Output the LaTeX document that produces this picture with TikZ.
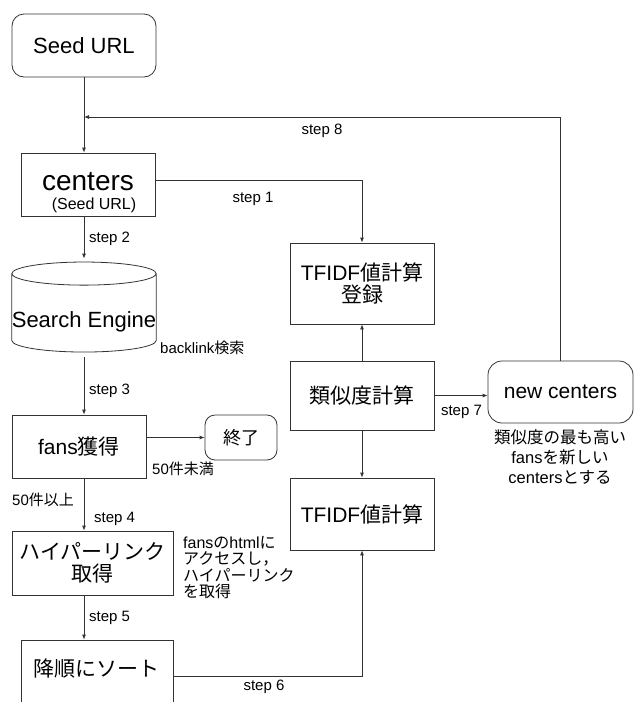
\documentclass[tikz,border=0pt]{standalone}
\usepackage{fontspec}
\setmainfont{Liberation Sans}
\newfontfamily\jp{Noto Sans CJK JP}
\usetikzlibrary{shapes.geometric,arrows.meta}

\tikzset{
  box/.style={draw=black!80, line width=0.8pt, inner sep=0pt, align=center,
    font=\fontsize{21}{24}\selectfont},
  rbox/.style={box, rounded corners=12pt},
  cyl/.style={box, cylinder, shape border rotate=90, aspect=0.16},
  flow/.style={draw=black!80, line width=0.8pt, -{Latex[length=5pt,width=4pt]}},
  steplbl/.style={font=\fontsize{15}{17}\selectfont, inner sep=0pt},
  note/.style={font=\fontsize{16}{16.5}\selectfont, inner sep=0pt},
}

\begin{document}
\begin{tikzpicture}[x=1pt, y=-1pt]
  \useasboundingbox (0,0) rectangle (633,702);

  % left column
  \node[rbox, minimum width=144pt, minimum height=63pt, font=\fontsize{22}{24}\selectfont] (seed) at (84,45.5) {Seed URL};
  \node[box, minimum width=134pt, minimum height=63pt, font=\fontsize{28}{19}\selectfont] (centers) at (88,184.5)
    {\rule{0pt}{34pt}centers\\ \hspace*{12pt}{\fontsize{16}{19}\selectfont (Seed URL)}};
  \node[cyl, minimum width=144pt, minimum height=90pt, text height=34pt, text depth=5pt,
    font=\fontsize{22}{24}\selectfont] (se) at (84,313) {Search Engine};
  \node[box, minimum width=134pt, minimum height=63pt] (fans) at (79,446.5) {fans{\jp 獲得}};
  \node[rbox, rounded corners=10pt, minimum width=72pt, minimum height=45pt, font=\fontsize{18}{20}\selectfont] (end) at (241,437.5) {\jp 終了};
  \node[box, minimum width=161pt, minimum height=64pt, font=\fontsize{21}{22}\selectfont] (hyp) at (92.5,563) {{\jp ハイパーリンク}\\{\jp 取得}};
  \node[box, minimum width=152pt, minimum height=72pt, text depth=14pt, text height=14pt] (sort) at (97,676) {\jp 降順にソート};

  % right column
  \node[box, minimum width=144pt, minimum height=81pt, font=\fontsize{21}{22}\selectfont] (tf1) at (362,283.5) {TFIDF{\jp 値計算}\\{\jp 登録}};
  \node[box, minimum width=144pt, minimum height=69pt] (sim) at (362,395.5) {\jp 類似度計算};
  \node[box, minimum width=144pt, minimum height=72pt] (tf2) at (362,514) {TFIDF{\jp 値計算}};
  \node[rbox, rounded corners=14pt, minimum width=145pt, minimum height=62pt] (newc) at (560.5,392) {new centers};

  % labels
  \node[steplbl] (s8) at (322,131) {step 8};
  \node[steplbl] (s1) at (253,198.5) {step 1};
  \node[steplbl, anchor=west] (s2) at (89,239) {step 2};
  \node[steplbl, anchor=west] (s3) at (89,391) {step 3};
  \node[steplbl, anchor=west] (s4) at (94,519) {step 4};
  \node[steplbl, anchor=west] (s5) at (89,618) {step 5};
  \node[steplbl] (s6) at (264,687) {step 6};
  \node[steplbl] (s7) at (461.5,412) {step 7};
  \node[steplbl, anchor=west] (bl) at (160,348) {backlink{\jp 検索}};
  \node[steplbl, anchor=west] (lt50) at (152,469) {50{\jp 件未満}};
  \node[steplbl, anchor=west] (ge50) at (12,500) {50{\jp 件以上}};
  \node[note, align=left, anchor=north west] (hypnote) at (183,536)
    {fans{\jp の}html{\jp に}\\{\jp アクセスし，}\\{\jp ハイパーリンク}\\{\jp を取得}};
  \node[note, align=center, font=\fontsize{16.5}{20}\selectfont] (newnote) at (560,457)
    {{\jp 類似度の最も高い}\\fans{\jp を新しい}\\centers{\jp とする}};

  % connectors
  \coordinate (back) at (84,117);
  \draw[flow] (seed.south) -- (seed.south |- centers.north);
  \draw[flow] (newc.north) |- (back);
  \draw[flow] ([yshift=4pt]centers.east) -| (tf1.north);
  \draw[flow] (se.north |- centers.south) -- ([yshift=3pt]se.north);
  \draw[flow] ([yshift=-5pt]se.south) -- (se.south |- fans.north);
  \draw[flow] (fans.east |- end.west) -- (end.west);
  \draw[flow] (se.south |- fans.south) -- (se.south |- hyp.north);
  \draw[flow] (se.south |- hyp.south) -- (se.south |- sort.north);
  \draw[flow] (sort.east) -| (tf2.south);
  \draw[flow] (sim.north) -- (tf1.south);
  \draw[flow] (sim.south) -- (tf2.north);
  \draw[flow] (sim.east) -- (sim.east -| newc.west);
\end{tikzpicture}
\end{document}
